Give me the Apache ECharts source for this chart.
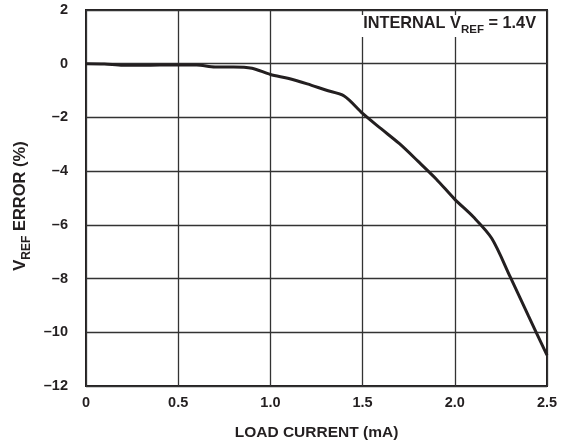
<!DOCTYPE html>
<html>
<head>
<meta charset="utf-8">
<script src="https://cdn.jsdelivr.net/npm/echarts@6/dist/echarts.min.js"></script>
<style>
  html, body { margin: 0; padding: 0; background: #fff; }
  #chart { width: 563px; height: 440px; }
</style>
</head>
<body>
<div id="chart"></div>
<script>
// Load current (mA) and reference error (%)
var loadCurrent = [0, 0.1, 0.2, 0.3, 0.4, 0.5, 0.6, 0.7, 0.8, 0.9, 1.0, 1.1, 1.2, 1.3, 1.4, 1.5, 1.6, 1.7, 1.8, 1.9, 2.0, 2.1, 2.2, 2.3, 2.4, 2.5];
var vrefError = [0, -0.01, -0.06, -0.06, -0.05, -0.05, -0.05, -0.12, -0.12, -0.17, -0.4, -0.55, -0.75, -0.98, -1.2, -1.85, -2.42, -2.98, -3.63, -4.3, -5.05, -5.7, -6.5, -7.93, -9.4, -10.85];

var xTicks = [0, 0.5, 1.0, 1.5, 2.0, 2.5];
var yTicks = [2, 0, -2, -4, -6, -8, -10, -12];

var FONT = '"Liberation Sans", Arial, Helvetica, sans-serif';
var INK = '#231f20';

var points = loadCurrent.map(function (x, i) { return [x, vrefError[i]]; });

var chart = echarts.init(document.getElementById('chart'), null, { renderer: 'canvas' });

chart.setOption({
  backgroundColor: '#ffffff',
  animation: false,
  grid: {
    left: 86, right: 16, top: 10, bottom: 54,
    outerBoundsMode: 'none',
    show: true, borderColor: INK, borderWidth: 2
  },
  xAxis: {
    type: 'value',
    min: xTicks[0],
    max: xTicks[xTicks.length - 1],
    interval: 0.5,
    name: 'LOAD CURRENT (mA)',
    nameLocation: 'middle',
    nameGap: 39,
    nameTextStyle: { fontFamily: FONT, fontWeight: 'bold', fontSize: 15.5, color: INK },
    axisLine: { show: false },
    axisTick: { show: false },
    splitLine: { show: true, lineStyle: { color: '#333', width: 1.3 } },
    axisLabel: {
      margin: 9,
      fontFamily: FONT, fontWeight: 'bold', fontSize: 14.5, color: INK,
      formatter: function (v) { return v === 0 ? '0' : v.toFixed(1); }
    }
  },
  yAxis: {
    type: 'value',
    min: yTicks[yTicks.length - 1],
    max: yTicks[0],
    interval: 2,
    name: '{main|V}{sub|REF}{main| ERROR (%)}',
    nameLocation: 'middle',
    nameGap: 49,
    nameRotate: 90,
    nameTextStyle: {
      padding: [0, 16, 0, 0],
      rich: {
        main: { fontFamily: FONT, fontWeight: 'bold', fontSize: 16.5, color: INK, lineHeight: 21, verticalAlign: 'top' },
        sub: { fontFamily: FONT, fontWeight: 'bold', fontSize: 12, color: INK, lineHeight: 21, verticalAlign: 'bottom', padding: [7, 0, 0, 0] }
      }
    },
    axisLine: { show: false },
    axisTick: { show: false },
    splitLine: { show: true, lineStyle: { color: '#333', width: 1.3 } },
    axisLabel: {
      margin: 18,
      fontFamily: FONT, fontWeight: 'bold', fontSize: 14.5, color: INK,
      formatter: function (v) { return v < 0 ? '\u2013' + Math.abs(v) : String(v); }
    }
  },
  graphic: [{
    type: 'text',
    right: 24,
    top: 15,
    z: 10,
    style: {
      text: '{main|INTERNAL V}{sub|REF}{main| = 1.4V}',
      backgroundColor: '#ffffff',
      padding: [1, 3, 1, 3],
      rich: {
        main: { fontFamily: FONT, fontWeight: 'bold', fontSize: 16.3, fill: INK, lineHeight: 20, verticalAlign: 'top' },
        sub: { fontFamily: FONT, fontWeight: 'bold', fontSize: 11.5, fill: INK, lineHeight: 20, verticalAlign: 'bottom', padding: [7, 0, 0, 0] }
      }
    }
  }],
  series: [{
    type: 'line',
    data: points,
    smooth: 0.3,
    showSymbol: false,
    lineStyle: { color: INK, width: 3 },
    z: 5
  }]
});
</script>
</body>
</html>
